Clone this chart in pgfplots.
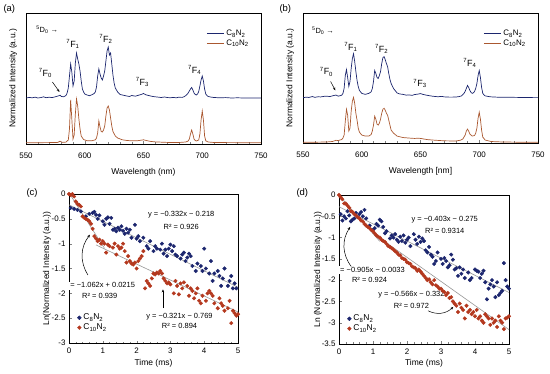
\documentclass[border=0pt]{standalone}
\usepackage{fontspec}
\setmainfont{Liberation Sans}
\usepackage{pgfplots}
\pgfplotsset{compat=1.18}
\usetikzlibrary{arrows.meta}
\definecolor{navy}{RGB}{28,38,110}
\definecolor{brn}{RGB}{170,88,48}
\definecolor{sred}{RGB}{180,56,30}
\definecolor{fitg}{RGB}{150,150,150}
\pgfplotsset{
  common/.style={scale only axis, tick align=inside, tick pos=left,
    axis line style={line width=0.6bp}, major tick length=2.5bp, minor tick length=1.5bp,
    /pgf/number format/assume math mode=true,
    tick label style={font=\fontsize{8}{9}\selectfont},
    label style={font=\fontsize{8.5}{9.5}\selectfont}},
  spec/.style={common, xmin=550, xmax=750, ymin=0, ymax=131,
    xtick={550,600,...,750}, minor x tick num=4, ytick=\empty,
    xticklabel style={yshift=-5bp},
    xlabel style={at={(axis description cs:0.5,-0.214)}, anchor=center},
    ylabel style={at={(axis description cs:-0.055,0.5)}, anchor=center},
    ylabel={Normalized Intensity (a.u.)},
    legend style={at={(0.97,0.90)}, anchor=north east, draw=none, fill=none,
      font=\fontsize{8}{9}\selectfont, row sep=-1.5bp},
    legend cell align=left,
    legend image code/.code={\draw[##1, line width=0.8bp] (0bp,0bp) -- (17bp,0bp);}},
  dec/.style={common, xmin=0, xmax=5, xtick={0,1,...,5}, minor x tick num=4,
    xticklabel style={yshift=-1.5bp},
    xlabel={Time (ms)},
    legend style={draw=none, fill=none, font=\fontsize{8.5}{9.5}\selectfont, row sep=-1.5bp},
    legend cell align=left,
    legend image code/.code={\fill[##1] (2bp,0bp) circle (1.9bp);}},
}
\begin{document}
\begin{tikzpicture}[font=\fontsize{8}{9}\selectfont]
\useasboundingbox (0,0) rectangle (550bp,374bp);
\node[font=\fontsize{9.5}{10}\selectfont, anchor=west] at (0bp,365bp) {(a)};
\node[font=\fontsize{9.5}{10}\selectfont, anchor=west] at (276bp,365bp) {(b)};
\node[font=\fontsize{9.5}{10}\selectfont, anchor=west] at (23bp,181bp) {(c)};
\node[font=\fontsize{9.5}{10}\selectfont, anchor=west] at (293bp,181bp) {(d)};

% ---------------- (a)
\begin{axis}[spec, at={(26bp,230bp)}, anchor=south west, width=235bp, height=131bp,
  xlabel={Wavelength (nm)}]
\addplot[navy, line width=0.7bp] coordinates {
(550,46) (553,46.6) (555,46.2) (558,46.8) (560,46) (563,46.5) (565,47.2) (567,46.3) (570,46.8) (572,46.4)
(575,47.2) (578,48.3) (579,48.8) (580,47.6) (582,47.2) (584,48.5) (585,51) (586,56) (587,68) (588,80)
(589,72) (590,58) (591,63) (592,81) (593,91) (594,85) (595,80) (596,73) (597,63) (598,55)
(599,52) (600,50) (602,49) (604,48.3) (606,49.2) (608,50.5) (609,52) (610,57) (611,68) (612,75)
(613,70) (614,66) (615,64) (616,68) (617,73) (618,83) (619,93) (620,97) (621,89) (622,91)
(623,80) (624,69) (625,61) (626,56) (627,54) (628,52) (630,49.5) (632,49) (635,48.2) (638,47.5)
(640,48.5) (643,47.8) (645,48.5) (648,49.5) (650,50.5) (652,49.2) (655,48.3) (658,47.5) (660,47.2) (663,46.8)
(665,46.5) (668,47) (670,46.5) (673,46.2) (675,46.6) (678,46.2) (680,46.8) (683,46.6) (685,47.5) (687,49.5)
(688,51) (689,53) (690,55) (691,56.5) (692,54) (693,51) (694,49.5) (695,49) (696,50) (697,52.5)
(698,58) (699,64) (700,68) (701,63) (702,55) (703,50) (704,48.5) (705,47.5) (708,46.8) (710,46.5)
(715,46.2) (720,46.4) (725,46) (730,46.2) (735,46) (740,46.1) (745,46) (750,46)};
\addlegendentry{C\textsubscript{8}N\textsubscript{2}}
\addplot[brn, line width=0.7bp] coordinates {
(550,1.3) (560,1.3) (570,1.4) (577,1.6) (579,2.8) (581,1.6) (584,1.9) (586,4) (587,15) (588,44)
(589,25) (590,5) (591,9) (592,30) (593,45) (594,38) (595,25) (596,15) (597,8) (599,4.5)
(602,3.2) (606,3.2) (609,4.2) (610,6) (611,11) (612,23) (613,17) (614,12.5) (615,12) (616,14)
(617,18) (618,28) (619,36) (620,38) (621,34) (622,26) (623,18) (624,12.5) (626,8) (628,6)
(632,4.2) (636,3.5) (640,3.2) (645,3.3) (648,3.8) (650,4.2) (653,3.3) (656,2.6) (660,2.1) (670,1.6)
(680,1.5) (686,2) (688,3) (689,5) (690,10) (691,14) (692,10) (693,5) (694,3.5) (695,3)
(697,4) (698,10) (699,24) (700,33) (701,24) (702,8) (703,3.2) (705,2) (710,1.5) (720,1.4)
(735,1.3) (750,1.3)};
\addlegendentry{C\textsubscript{10}N\textsubscript{2}}
\node[font=\fontsize{7.5}{8}\selectfont] at (axis cs:568,114) {\textsuperscript{5}D\textsubscript{0} →};
\node[font=\fontsize{9}{10}\selectfont] at (axis cs:590,100) {\textsuperscript{7}F\textsubscript{1}};
\node[font=\fontsize{9}{10}\selectfont] at (axis cs:618,105) {\textsuperscript{7}F\textsubscript{2}};
\node[font=\fontsize{9}{10}\selectfont] at (axis cs:566.5,71) {\textsuperscript{7}F\textsubscript{0}};
\node[font=\fontsize{9}{10}\selectfont] at (axis cs:649,62) {\textsuperscript{7}F\textsubscript{3}};
\node[font=\fontsize{9}{10}\selectfont] at (axis cs:693.5,74) {\textsuperscript{7}F\textsubscript{4}};
\draw[-{Stealth[length=3bp,width=2.5bp]}, line width=0.5bp] (axis cs:572.5,62) -- (axis cs:578.5,52);
\end{axis}

% ---------------- (b)
\begin{axis}[spec, at={(303bp,231bp)}, anchor=south west, width=235bp, height=130bp,
  xlabel={Wavelength [nm]}]
\addplot[navy, line width=0.7bp] coordinates {
(550,45.7) (553,46.2) (555,45.9) (558,46.8) (560,46) (563,46.6) (565,46.4) (568,47) (570,47.2) (573,46.8)
(575,47.5) (578,48.3) (580,47.2) (582,47.8) (583,48.2) (584,50) (585,55) (586,68) (587,74) (588,66)
(589,57) (590,62) (591,75) (592,85) (593,90) (594,82) (595,72) (596,63) (597,57) (598,53)
(600,50) (603,49) (606,50) (608,51.5) (609,55) (610,62) (611,73) (612,70) (613,66) (614,65)
(615,68) (616,72) (617,80) (618,86) (619,87) (620,84) (621,80) (622,77) (623,70) (624,64)
(625,60) (627,55) (630,50.5) (632,49.5) (635,49) (638,48.2) (640,48.5) (643,48) (645,48.8) (648,49.3)
(650,49.8) (652,49) (655,48.2) (658,47.6) (660,47.2) (663,46.8) (665,46.6) (668,47) (670,46.5) (675,46.2)
(680,46.3) (683,46.8) (685,47.5) (687,50) (688,52) (689,55) (690,58) (691,56) (692,53) (693,51)
(694,50) (695,50.5) (696,52) (697,55) (698,60) (699,68) (700,73) (701,66) (702,56) (703,50)
(704,48.5) (705,47.5) (708,46.8) (710,46.5) (715,46.2) (720,46) (730,46) (740,45.8) (750,45.7)};
\addlegendentry{C\textsubscript{8}N\textsubscript{2}}
\addplot[brn, line width=0.7bp] coordinates {
(550,0.7) (560,0.8) (570,1) (575,1.5) (578,2.7) (580,2.5) (583,3.5) (584,5) (585,8) (586,22)
(587,34) (588,28) (589,12) (590,15) (591,32) (592,42) (593,46) (594,40) (595,30) (596,23)
(597,15) (598,11) (600,8) (603,7) (606,7) (608,8.5) (609,12) (610,18) (611,27) (612,24)
(613,19) (614,18) (615,20) (616,24) (617,30) (618,34) (619,35) (620,33) (621,30) (622,28)
(623,23) (624,18) (625,13) (627,10) (630,7) (635,5.5) (640,5) (645,4.6) (648,4.8) (650,4.6)
(653,4) (656,3.4) (660,3) (670,2.2) (680,2) (684,2.8) (686,4) (688,8) (689,12) (690,14)
(691,12) (692,9) (694,7) (696,7.5) (697,10) (698,15) (699,25) (700,31) (701,24) (702,13)
(703,6) (705,3) (710,1.5) (720,1) (735,0.8) (750,0.7)};
\addlegendentry{C\textsubscript{10}N\textsubscript{2}}
\node[font=\fontsize{7.5}{8}\selectfont] at (axis cs:567,113) {\textsuperscript{5}D\textsubscript{0} →};
\node[font=\fontsize{9}{10}\selectfont] at (axis cs:590.7,97) {\textsuperscript{7}F\textsubscript{1}};
\node[font=\fontsize{9}{10}\selectfont] at (axis cs:617,95) {\textsuperscript{7}F\textsubscript{2}};
\node[font=\fontsize{9}{10}\selectfont] at (axis cs:570,72) {\textsuperscript{7}F\textsubscript{0}};
\node[font=\fontsize{9}{10}\selectfont] at (axis cs:649.6,60) {\textsuperscript{7}F\textsubscript{3}};
\node[font=\fontsize{9}{10}\selectfont] at (axis cs:692,81) {\textsuperscript{7}F\textsubscript{4}};
\draw[-{Stealth[length=3bp,width=2.5bp]}, line width=0.5bp] (axis cs:573.5,62) -- (axis cs:577.5,53);
\end{axis}

% ---------------- (c)
\begin{axis}[dec, at={(69bp,31bp)}, anchor=south west, width=169bp, height=149bp,
  ymin=-3, ymax=0, ytick={-3,-2.5,...,0},
  ylabel={Ln(Normalized Intensity (a.u.))},
  ylabel style={at={(axis description cs:-0.13,0.5)}, anchor=center},
  xlabel style={at={(axis description cs:0.5,-0.134)}, anchor=center},
  legend style={at={(0.03,0.05)}, anchor=south west}]
\addplot[only marks, mark=*, mark size=1.8bp, navy, mark options={draw=navy, fill=navy}] coordinates {
(0.05,-0.28) (0.15,-0.30) (0.25,-0.32) (0.35,-0.35) (0.5,-0.45) (0.6,-0.40) (0.7,-0.38) (0.75,-0.36)
(0.8,-0.42) (0.85,-0.5) (0.9,-0.43) (1.0,-0.55) (1.05,-0.62) (1.1,-0.50) (1.15,-0.47) (1.2,-0.60)
(1.25,-0.48) (1.3,-0.72) (1.35,-0.70) (1.4,-0.75) (1.45,-0.68) (1.5,-0.72) (1.55,-0.65) (1.6,-0.74)
(1.65,-0.80) (1.7,-0.70) (1.75,-0.78) (1.8,-0.72) (1.85,-0.88) (1.95,-0.62) (2.0,-0.90) (2.05,-0.85)
(2.1,-0.95) (2.2,-0.88) (2.3,-1.05) (2.35,-1.10) (2.4,-0.95) (2.5,-1.15) (2.55,-1.05) (2.6,-1.10)
(2.7,-1.12) (2.75,-1.0) (2.8,-1.2) (2.85,-1.12) (2.9,-1.25) (2.95,-1.1) (3.0,-1.02) (3.05,-1.15)
(3.1,-1.05) (3.15,-1.22) (3.2,-1.25) (3.3,-1.30) (3.35,-1.22) (3.4,-1.18) (3.45,-1.35) (3.5,-1.28)
(3.55,-1.2) (3.6,-1.25) (3.65,-1.45) (3.75,-1.55) (3.8,-1.40) (3.9,-1.45) (3.95,-1.55) (4.0,-1.10)
(4.05,-1.5) (4.15,-1.6) (4.2,-1.35) (4.25,-1.75) (4.3,-1.6) (4.4,-1.55) (4.45,-1.65) (4.5,-1.85)
(4.55,-1.70) (4.6,-1.5) (4.7,-1.85) (4.75,-1.75) (4.8,-1.65) (4.85,-1.9) (4.9,-1.8) (4.95,-1.9)};
\addlegendentry{C\textsubscript{8}N\textsubscript{2}}
\addplot[only marks, mark=*, mark size=1.8bp, sred, mark options={draw=sred, fill=sred}] coordinates {
(0.0,0.0) (0.05,-0.02) (0.1,0.0) (0.15,-0.05) (0.2,-0.15) (0.25,-0.2) (0.3,-0.22) (0.35,-0.25)
(0.4,-0.45) (0.45,-0.48) (0.5,-0.5) (0.55,-0.52) (0.6,-0.55) (0.65,-0.6) (0.7,-0.7) (0.75,-0.85)
(0.8,-0.9) (0.85,-0.95) (0.9,-0.92) (0.95,-1.0) (1.0,-0.95) (1.05,-1.0) (1.1,-1.18) (1.15,-1.02)
(1.2,-1.05) (1.3,-1.08) (1.35,-1.0) (1.4,-1.22) (1.45,-1.05) (1.5,-1.1) (1.55,-1.08) (1.6,-1.0)
(1.65,-1.15) (1.7,-1.38) (1.75,-1.25) (1.8,-1.35) (1.85,-1.4) (1.9,-1.42) (1.95,-1.38) (2.0,-1.5)
(2.05,-1.35) (2.1,-1.3) (2.15,-1.25) (2.2,-1.15) (2.25,-1.9) (2.3,-1.75) (2.35,-1.8) (2.4,-1.85)
(2.45,-1.7) (2.5,-1.6) (2.55,-1.62) (2.6,-1.58) (2.65,-1.6) (2.7,-1.55) (2.75,-1.6) (2.8,-1.7)
(2.85,-1.75) (2.9,-1.8) (2.95,-1.78) (3.0,-1.82) (3.1,-2.0) (3.15,-1.75) (3.2,-1.85) (3.25,-2.02)
(3.3,-1.8) (3.35,-1.9) (3.4,-1.78) (3.5,-1.85) (3.55,-2.05) (3.6,-1.9) (3.65,-1.95) (3.7,-2.1)
(3.75,-2.0) (3.8,-1.9) (3.85,-2.15) (3.9,-2.2) (3.95,-2.05) (4.05,-2.15) (4.1,-2.0) (4.15,-1.95)
(4.2,-2.0) (4.25,-2.05) (4.3,-2.2) (4.4,-2.3) (4.45,-2.1) (4.5,-2.2) (4.55,-2.25) (4.6,-2.35)
(4.7,-2.3) (4.75,-2.15) (4.8,-2.6) (4.85,-2.35) (4.9,-2.4) (4.95,-2.45) (5.0,-2.42)};
\addlegendentry{C\textsubscript{10}N\textsubscript{2}}
\addplot[fitg, line width=0.6bp, forget plot] coordinates {(0,-0.218) (5,-1.878)};
\addplot[fitg, line width=0.6bp, forget plot] coordinates {(0,0.0215) (1.05,-1.0936)};
\addplot[fitg, line width=0.6bp, forget plot] coordinates {(0.8,-1.0258) (5,-2.374)};
\node[font=\fontsize{7.5}{8.5}\selectfont] at (axis cs:3.32,-0.41) {y = −0.332x − 0.218};
\node[font=\fontsize{7.5}{8.5}\selectfont] at (axis cs:3.32,-0.67) {R² = 0.926};
\node[font=\fontsize{7.5}{8.5}\selectfont, fill=white, inner sep=0.5bp] at (axis cs:0.91,-1.85) {y = −1.062x + 0.0215};
\node[font=\fontsize{7.5}{8.5}\selectfont] at (axis cs:0.91,-2.05) {R² = 0.939};
\node[font=\fontsize{7.5}{8.5}\selectfont] at (axis cs:3.27,-2.46) {y = −0.321x − 0.769};
\node[font=\fontsize{7.5}{8.5}\selectfont] at (axis cs:3.27,-2.66) {R² = 0.894};
\draw[-{Stealth[length=3bp,width=2.5bp]}, line width=0.5bp] (axis cs:0.56,-1.63) to[bend left=35] (axis cs:0.62,-0.82);
\draw[-{Stealth[length=3bp,width=2.5bp]}, line width=0.5bp] (axis cs:2.78,-2.30) -- (axis cs:2.78,-1.92);
\end{axis}

% ---------------- (d)
\begin{axis}[dec, at={(339bp,30bp)}, anchor=south west, width=170bp, height=149bp,
  ymin=-3.5, ymax=0, ytick={-3.5,-3,...,0},
  ylabel={Ln (Normalized Intensity (a.u.))},
  ylabel style={at={(axis description cs:-0.124,0.5)}, anchor=center},
  xlabel style={at={(axis description cs:0.5,-0.128)}, anchor=center},
  legend style={at={(0.03,0.05)}, anchor=south west}]
\addplot[only marks, mark=*, mark size=1.8bp, navy, mark options={draw=navy, fill=navy}] coordinates {
(0.05,-0.45) (0.1,-0.6) (0.15,-0.5) (0.2,-0.55) (0.25,-0.38) (0.3,-0.48) (0.35,-0.62) (0.4,-0.58)
(0.45,-0.55) (0.5,-0.42) (0.55,-0.52) (0.6,-0.45) (0.65,-0.4) (0.7,-0.5) (0.75,-0.35) (0.8,-0.55)
(0.9,-0.72) (1.0,-0.82) (1.05,-0.78) (1.1,-0.68) (1.15,-0.72) (1.2,-0.58) (1.25,-0.62) (1.3,-0.75)
(1.35,-0.9) (1.4,-0.85) (1.5,-1.02) (1.55,-0.95) (1.6,-1.0) (1.65,-0.92) (1.7,-1.05) (1.75,-1.1)
(1.8,-0.98) (1.85,-1.08) (1.9,-0.95) (1.95,-1.12) (2.0,-1.05) (2.05,-1.0) (2.1,-1.2) (2.2,-0.92)
(2.25,-1.05) (2.3,-1.15) (2.35,-0.98) (2.4,-1.1) (2.45,-1.02) (2.5,-1.08) (2.55,-1.3) (2.6,-1.35)
(2.65,-1.22) (2.7,-1.4) (2.75,-1.45) (2.8,-1.62) (2.85,-1.55) (2.9,-1.35) (3.0,-1.5) (3.05,-1.62)
(3.1,-1.48) (3.15,-1.55) (3.2,-1.7) (3.25,-1.65) (3.3,-1.4) (3.35,-1.52) (3.4,-1.75) (3.45,-1.72)
(3.5,-1.9) (3.55,-1.7) (3.6,-1.85) (3.65,-1.75) (3.7,-1.95) (3.8,-1.82) (3.85,-2.0) (3.9,-1.95)
(4.0,-1.75) (4.05,-1.78) (4.1,-1.8) (4.15,-1.95) (4.2,-1.85) (4.25,-1.78) (4.3,-2.05) (4.35,-2.45)
(4.4,-2.2) (4.45,-2.1) (4.5,-2.0) (4.55,-2.15) (4.6,-2.4) (4.65,-2.05) (4.7,-2.35) (4.75,-2.3)
(4.8,-2.25) (4.85,-1.6) (4.9,-2.0) (4.95,-2.15) (5.0,-2.2)};
\addlegendentry{C\textsubscript{8}N\textsubscript{2}}
\addplot[only marks, mark=*, mark size=1.8bp, sred, mark options={draw=sred, fill=sred}] coordinates {
(0.0,0.0) (0.05,-0.05) (0.1,-0.1) (0.15,-0.2) (0.2,-0.2) (0.25,-0.25) (0.3,-0.3) (0.35,-0.38)
(0.4,-0.4) (0.45,-0.45) (0.5,-0.48) (0.55,-0.52) (0.6,-0.55) (0.65,-0.6) (0.7,-0.62) (0.75,-0.68)
(0.8,-0.72) (0.85,-0.75) (0.9,-0.78) (0.95,-0.82) (1.0,-0.85) (1.05,-0.9) (1.1,-0.95) (1.15,-0.98)
(1.2,-1.0) (1.25,-1.05) (1.3,-1.08) (1.35,-1.1) (1.4,-1.15) (1.45,-1.2) (1.5,-1.22) (1.55,-1.25)
(1.6,-1.28) (1.65,-1.32) (1.7,-1.35) (1.75,-1.4) (1.8,-1.42) (1.85,-1.48) (1.9,-1.5) (1.95,-1.52)
(2.0,-1.58) (2.05,-1.6) (2.1,-1.62) (2.15,-1.68) (2.2,-1.7) (2.25,-1.72) (2.3,-1.78) (2.35,-1.75)
(2.4,-1.8) (2.45,-1.85) (2.5,-1.9) (2.55,-1.95) (2.6,-2.0) (2.65,-1.98) (2.7,-2.05) (2.75,-2.1)
(2.8,-2.0) (2.85,-2.12) (2.9,-2.15) (2.95,-2.2) (3.0,-2.2) (3.05,-2.25) (3.1,-2.28) (3.15,-2.35)
(3.2,-2.3) (3.25,-2.42) (3.3,-2.4) (3.35,-2.5) (3.4,-2.55) (3.45,-2.6) (3.5,-2.75) (3.55,-2.55)
(3.6,-2.65) (3.65,-2.7) (3.7,-2.9) (3.75,-2.6) (3.8,-2.75) (3.85,-2.7) (3.9,-2.8) (3.95,-2.75)
(4.0,-2.85) (4.05,-2.7) (4.1,-2.9) (4.15,-2.85) (4.2,-2.95) (4.25,-3.0) (4.3,-2.8) (4.35,-2.85)
(4.4,-2.9) (4.45,-3.05) (4.5,-2.9) (4.55,-3.0) (4.6,-2.95) (4.65,-3.1) (4.7,-2.85) (4.75,-2.95)
(4.8,-3.0) (4.85,-3.15) (4.9,-2.9) (4.95,-2.88) (5.0,-2.85)};
\addlegendentry{C\textsubscript{10}N\textsubscript{2}}
\addplot[fitg, line width=0.6bp, forget plot] coordinates {(0,-0.275) (5,-2.29)};
\addplot[fitg, line width=0.6bp, forget plot] coordinates {(0,-0.0033) (1.2,-1.0893)};
\addplot[fitg, line width=0.6bp, forget plot] coordinates {(1,-0.898) (5,-3.162)};
\node[font=\fontsize{7.5}{8.5}\selectfont] at (axis cs:3.11,-0.59) {y = −0.403x − 0.275};
\node[font=\fontsize{7.5}{8.5}\selectfont] at (axis cs:3.11,-0.84) {R² = 0.9314};
\node[font=\fontsize{7.5}{8.5}\selectfont, fill=white, inner sep=0.5bp] at (axis cs:0.9,-1.77) {y = −0.905x − 0.0033};
\node[font=\fontsize{7.5}{8.5}\selectfont] at (axis cs:0.9,-2.0) {R² = 0.924};
\node[font=\fontsize{7.5}{8.5}\selectfont] at (axis cs:2.13,-2.35) {y = −0.566x − 0.332};
\node[font=\fontsize{7.5}{8.5}\selectfont] at (axis cs:2.13,-2.61) {R² = 0.972};
\draw[-{Stealth[length=3bp,width=2.5bp]}, line width=0.5bp] (axis cs:0.36,-1.68) to[bend left=35] (axis cs:0.33,-0.75);
\draw[-{Stealth[length=3bp,width=2.5bp]}, line width=0.5bp] (axis cs:2.62,-2.72) to[bend right=35] (axis cs:3.36,-2.63);
\end{axis}
\end{tikzpicture}
\end{document}
